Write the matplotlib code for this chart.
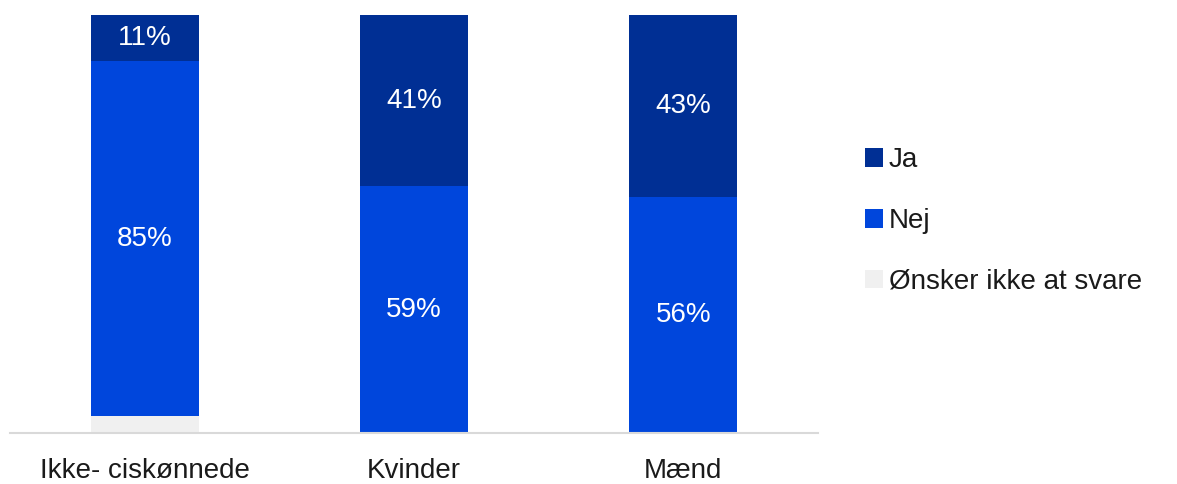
import numpy as np
import matplotlib.pyplot as plt
from matplotlib.patches import Patch

plt.rcParams['font.family'] = ['Liberation Sans', 'DejaVu Sans']

categories = ['Ikke- ciskønnede', 'Kvinder', 'Mænd']
series_names = ['Ja', 'Nej', 'Ønsker ikke at svare']
ja = [11, 41, 43]
nej = [85, 59, 56]
onsker = [4, 0, 0]

colors = {'Ja': '#002f94', 'Nej': '#0046dc', 'Ønsker ikke at svare': '#f0f0f0'}

# 100% stacked -> normalise each column
raw = np.array([onsker, nej, ja], dtype=float)
shares = raw / raw.sum(axis=0) * 100

fig = plt.figure(figsize=(11.77, 4.84), dpi=100)
ax = fig.add_axes([10 / 1177, 51 / 484, 808 / 1177, 418 / 484])

x = np.arange(len(categories))
bottom = np.zeros(len(categories))
order = [('Ønsker ikke at svare', onsker), ('Nej', nej), ('Ja', ja)]
for i, (name, vals) in enumerate(order):
    h = shares[i]
    ax.bar(x, h, bottom=bottom, width=0.4, color=colors[name], linewidth=0)
    if name != 'Ønsker ikke at svare':
        for xi, b, hi, v in zip(x, bottom, h, vals):
            if v > 0:
                ax.text(xi, b + hi / 2, f'{v}%', ha='center', va='center',
                        color='white', fontsize=20)
    bottom += h

ax.set_xlim(-0.5, 2.5)
ax.set_ylim(0, 100)
ax.set_yticks([])
ax.set_xticks(x)
ax.set_xticklabels(categories, fontsize=20, color='#1a1a1a')
ax.tick_params(axis='x', length=0, pad=18)
for s in ['top', 'right', 'left']:
    ax.spines[s].set_visible(False)
ax.spines['bottom'].set_color('#d9d9d9')
ax.spines['bottom'].set_linewidth(1.5)

handles = [Patch(facecolor=colors[n], edgecolor='none') for n in series_names]
fig.legend(handles, series_names, loc='center left',
           bbox_to_anchor=(840 / 1177, (484 - 221) / 484), frameon=False,
           fontsize=20, handlelength=0.65, handleheight=0.65,
           handletextpad=0.2, labelspacing=1.25, labelcolor='#1a1a1a')

fig.savefig('out.png', dpi=100)
